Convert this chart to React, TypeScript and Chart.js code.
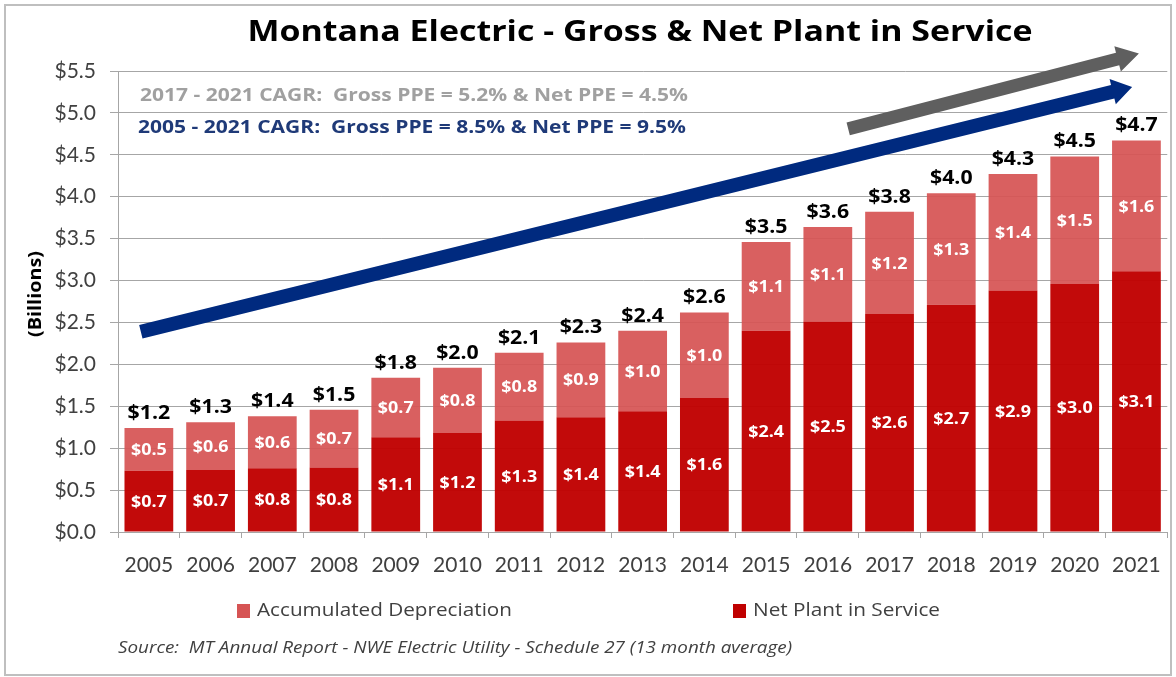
import React, { useEffect, useRef } from "react";
import { Chart, registerables } from "chart.js";
Chart.register(...registerables);

const years = ["2005","2006","2007","2008","2009","2010","2011","2012","2013","2014","2015","2016","2017","2018","2019","2020","2021"];
const netPlant = [0.73,0.74,0.76,0.77,1.13,1.18,1.33,1.37,1.44,1.60,2.40,2.51,2.60,2.71,2.88,2.96,3.11];
const accumDep = [0.51,0.57,0.62,0.69,0.71,0.78,0.81,0.89,0.96,1.02,1.06,1.13,1.22,1.33,1.39,1.52,1.56];
const seriesNames = ["Net Plant in Service", "Accumulated Depreciation"];
const titleText = "Montana Electric - Gross & Net Plant in Service";
const cagrRecent = "2017 - 2021 CAGR:  Gross PPE = 5.2% & Net PPE = 4.5%";
const cagrLong = "2005 - 2021 CAGR:  Gross PPE = 8.5% & Net PPE = 9.5%";
const yTitle = "(Billions)";
const sourceText = "Source:  MT Annual Report - NWE Electric Utility - Schedule 27 (13 month average)";

// arrow annotations in data units [category index, value]
const blueArrow = { from: [-0.13, 2.39], to: [15.93, 5.31] };
const grayArrow = { from: [11.33, 4.81], to: [16.04, 5.71] };

const FONT = "'Open Sans'";
const TICKFONT = "Lato";
const DARK = "#C00000";
const LIGHT = "#D65454";
const GRID = "#A6A6A6";
const NAVY = "#1F3A78";
const LABEL_STRETCH = 1.12;

const fmt = (v: number) => "$" + (Math.round(v * 100) / 100).toFixed(1);

function fitText(ctx: CanvasRenderingContext2D, text: string, x: number, y: number, width: number, align: CanvasTextAlign) {
  const w = ctx.measureText(text).width;
  ctx.save();
  ctx.translate(x, y);
  ctx.scale(width / w, 1);
  ctx.textAlign = align;
  ctx.fillText(text, 0, 0);
  ctx.restore();
}

function stretchText(ctx: CanvasRenderingContext2D, text: string, x: number, y: number, sx: number) {
  ctx.save();
  ctx.translate(x, y);
  ctx.scale(sx, 1);
  ctx.textAlign = "center";
  ctx.fillText(text, 0, 0);
  ctx.restore();
}

function drawArrow(ctx: CanvasRenderingContext2D, x1: number, y1: number, x2: number, y2: number, shaft: number, headW: number, headL: number, color: string) {
  const ang = Math.atan2(y2 - y1, x2 - x1);
  const len = Math.hypot(x2 - x1, y2 - y1);
  ctx.save();
  ctx.translate(x1, y1);
  ctx.rotate(ang);
  ctx.fillStyle = color;
  ctx.beginPath();
  ctx.moveTo(0, -shaft / 2);
  ctx.lineTo(len - headL, -shaft / 2);
  ctx.lineTo(len - headL, -headW / 2);
  ctx.lineTo(len, 0);
  ctx.lineTo(len - headL, headW / 2);
  ctx.lineTo(len - headL, shaft / 2);
  ctx.lineTo(0, shaft / 2);
  ctx.closePath();
  ctx.fill();
  ctx.restore();
}

const decorPlugin = {
  id: "decor",
  beforeDraw(chart: any) {
    const ctx = chart.ctx;
    ctx.save();
    ctx.fillStyle = "#fff";
    ctx.fillRect(0, 0, chart.width, chart.height);
    ctx.restore();
  },
  afterDatasetsDraw(chart: any) {
    const ctx: CanvasRenderingContext2D = chart.ctx;
    const m0 = chart.getDatasetMeta(0);
    const m1 = chart.getDatasetMeta(1);
    ctx.save();
    ctx.textBaseline = "middle";
    ctx.fillStyle = "#fff";
    ctx.font = `bold 16px ${FONT}`;
    [m0, m1].forEach((meta: any, di: number) => {
      const data = di === 0 ? netPlant : accumDep;
      meta.data.forEach((el: any, i: number) => {
        const yc = (el.y + el.base) / 2;
        stretchText(ctx, fmt(data[i]), el.x, yc + 1, LABEL_STRETCH);
      });
    });
    ctx.fillStyle = "#000";
    ctx.font = `bold 19px ${FONT}`;
    ctx.textBaseline = "bottom";
    m1.data.forEach((el: any, i: number) => {
      stretchText(ctx, fmt(netPlant[i] + accumDep[i]), el.x, el.y - 5, LABEL_STRETCH);
    });
    ctx.restore();
  },
  afterDraw(chart: any) {
    const ctx: CanvasRenderingContext2D = chart.ctx;
    const xs = chart.scales.x;
    const ys = chart.scales.y;
    ctx.save();
    ctx.textBaseline = "middle";
    // title
    ctx.fillStyle = "#000";
    ctx.font = `bold 29px ${FONT}`;
    fitText(ctx, titleText, 640, 33, 785, "center");
    // CAGR texts
    ctx.font = `bold 18px ${FONT}`;
    ctx.fillStyle = "#A0A0A0";
    fitText(ctx, cagrRecent, 140, 96, 548, "left");
    ctx.fillStyle = NAVY;
    fitText(ctx, cagrLong, 138, 128, 548, "left");
    // arrows
    const px = (p: number[]) => [xs.getPixelForValue(p[0]), ys.getPixelForValue(p[1])];
    const [gx1, gy1] = px(grayArrow.from);
    const [gx2, gy2] = px(grayArrow.to);
    drawArrow(ctx, gx1, gy1, gx2, gy2, 13, 26, 22, "#5F5F5F");
    const [bx1, by1] = px(blueArrow.from);
    const [bx2, by2] = px(blueArrow.to);
    drawArrow(ctx, bx1, by1, bx2, by2, 14, 26, 20, "#002A7F");
    // y title
    ctx.save();
    ctx.translate(36, 294);
    ctx.rotate(-Math.PI / 2);
    ctx.fillStyle = "#000";
    ctx.font = `bold 18px ${FONT}`;
    fitText(ctx, yTitle, 0, 0, 86, "center");
    ctx.restore();
    // legend
    ctx.font = `19px ${FONT}`;
    ctx.fillStyle = LIGHT;
    ctx.fillRect(237, 604, 13, 14);
    ctx.fillStyle = "#404040";
    fitText(ctx, seriesNames[1], 257, 611, 255, "left");
    ctx.fillStyle = DARK;
    ctx.fillRect(733, 604, 13, 14);
    ctx.fillStyle = "#404040";
    fitText(ctx, seriesNames[0], 753, 611, 187, "left");
    // source
    ctx.font = `italic 16px ${FONT}`;
    fitText(ctx, sourceText, 118, 648, 674, "left");
    // border
    ctx.strokeStyle = "#BFBFBF";
    ctx.lineWidth = 2;
    ctx.strokeRect(5, 5, 1166, 670);
    ctx.restore();
  },
};

export default function App() {
  const ref = useRef<HTMLCanvasElement>(null);
  useEffect(() => {
    const chart = new Chart(ref.current!, {
      type: "bar",
      data: {
        labels: years,
        datasets: [
          { label: seriesNames[0], data: netPlant, backgroundColor: "rgba(192,0,0,0.96)", categoryPercentage: 1, barPercentage: 0.79 },
          { label: seriesNames[1], data: accumDep, backgroundColor: "rgba(214,84,84,0.93)", categoryPercentage: 1, barPercentage: 0.79 },
        ],
      },
      options: {
        animation: false,
        responsive: false,
        maintainAspectRatio: false,
        layout: { padding: { top: 71, right: 7, bottom: 100, left: 0 } },
        plugins: { legend: { display: false }, title: { display: false }, tooltip: { enabled: false } },
        scales: {
          x: {
            stacked: true,
            grid: { offset: true, drawOnChartArea: false, drawTicks: true, tickLength: 6, color: GRID },
            border: { color: GRID, width: 1 },
            ticks: { font: { family: TICKFONT, size: 21 }, color: "#404040", padding: 15, maxRotation: 0, autoSkip: false },
            afterFit: (s: any) => { s.height = 45; },
          },
          y: {
            stacked: true,
            min: 0,
            max: 5.5,
            ticks: { stepSize: 0.5, callback: (v: any) => fmt(Number(v)), font: { family: TICKFONT, size: 21 }, color: "#404040", padding: 14 },
            grid: { color: GRID, tickLength: 8 },
            border: { color: GRID, width: 1 },
            afterFit: (s: any) => { s.width = 118; },
          },
        },
      },
      plugins: [decorPlugin],
    } as any);
    return () => chart.destroy();
  }, []);
  return (
    <div style={{ position: "fixed", left: 0, top: 0, width: 1176, height: 677, background: "#fff" }}>
      <canvas ref={ref} width={1176} height={677} style={{ display: "block", width: 1176, height: 677 }} />
    </div>
  );
}
